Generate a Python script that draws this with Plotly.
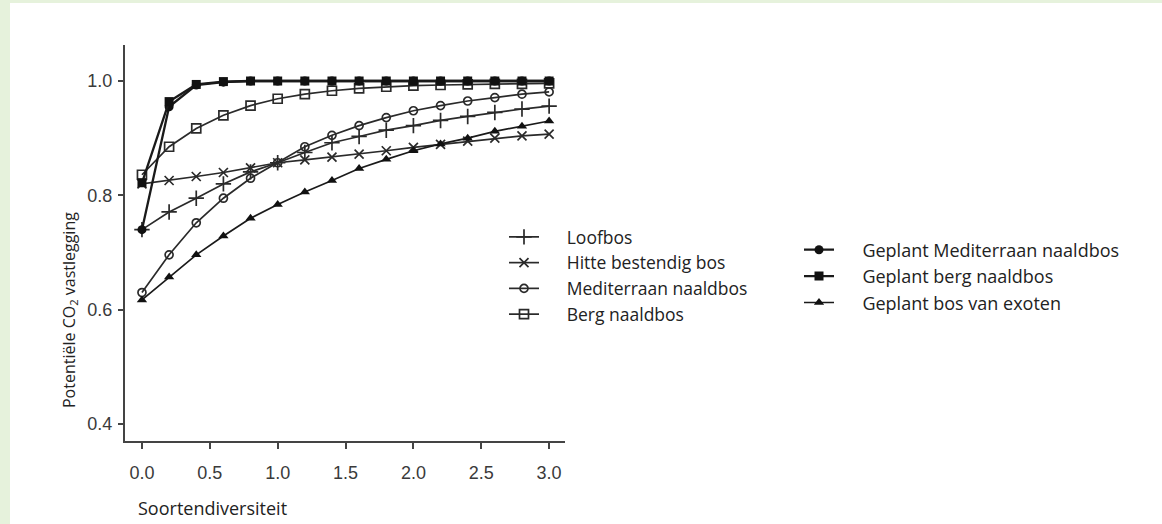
import plotly.graph_objects as go

# ---------------- data ----------------
x_vals = [0.0, 0.2, 0.4, 0.6, 0.8, 1.0, 1.2, 1.4, 1.6, 1.8, 2.0, 2.2, 2.4, 2.6, 2.8, 3.0]

loofbos = [0.74, 0.771, 0.795, 0.82, 0.841, 0.857, 0.875, 0.892, 0.903, 0.914, 0.922, 0.931, 0.938, 0.945, 0.951, 0.956]
hitte = [0.82, 0.826, 0.833, 0.84, 0.848, 0.857, 0.862, 0.867, 0.872, 0.878, 0.884, 0.889, 0.895, 0.9, 0.904, 0.907]
mediterraan = [0.63, 0.696, 0.752, 0.795, 0.83, 0.857, 0.885, 0.905, 0.922, 0.936, 0.948, 0.957, 0.965, 0.971, 0.977, 0.981]
berg = [0.836, 0.885, 0.917, 0.94, 0.957, 0.969, 0.977, 0.983, 0.987, 0.99, 0.992, 0.993, 0.994, 0.995, 0.995, 0.996]
geplant_med = [0.74, 0.955, 0.993, 0.998, 1.0, 1.0, 1.0, 1.0, 1.0, 1.0, 1.0, 1.0, 1.0, 1.0, 1.0, 1.0]
geplant_berg = [0.822, 0.964, 0.994, 0.999, 1.0, 1.0, 1.0, 1.0, 1.0, 1.0, 1.0, 1.0, 1.0, 1.0, 1.0, 1.0]
exoten = [0.617, 0.657, 0.696, 0.729, 0.76, 0.784, 0.806, 0.826, 0.847, 0.863, 0.878, 0.89, 0.9, 0.912, 0.921, 0.93]

x_ticks = [0.0, 0.5, 1.0, 1.5, 2.0, 2.5, 3.0]
x_ticklabels = ["0.0", "0.5", "1.0", "1.5", "2.0", "2.5", "3.0"]
y_ticks = [0.4, 0.6, 0.8, 1.0]
y_ticklabels = ["0.4", "0.6", "0.8", "1.0"]

names1 = ["Loofbos", "Hitte bestendig bos", "Mediterraan naaldbos", "Berg naaldbos"]
names2 = ["Geplant Mediterraan naaldbos", "Geplant berg naaldbos", "Geplant bos van exoten"]

# ---------------- layout geometry ----------------
W, H = 1162, 524
L, R, T, B = 125, 565, 45, 441   # plot area in px


def px2x(px):
    return (px - L) / (R - L)


def px2y(py):
    return (B - py) / (B - T)


PAD = "\u00a0" * 5
FONT_FAMILY = "Open Sans, Noto Sans, sans-serif"
LEG_FONT1 = dict(family=FONT_FAMILY, size=17.5, color="#222222")
LEG_FONT2 = dict(family=FONT_FAMILY, size=18, color="#222222")
TICK_FONT = dict(family="Liberation Sans Narrow, Liberation Sans, Arial, sans-serif", size=18, color="#3a3a3a")

fig = go.Figure()

open_series = [
    (loofbos, "cross-thin", 11),
    (hitte, "x-thin", 9),
    (mediterraan, "circle-open", 8),
    (berg, "square-open", 9),
]
for (vals, sym, sz), nm in zip(open_series, names1):
    fig.add_trace(go.Scatter(
        x=x_vals, y=vals, name=PAD + nm, mode="lines+markers",
        line=dict(color="#2a2a2a", width=1.7),
        marker=dict(symbol=sym, size=sz, color="#2a2a2a",
                    line=dict(color="#2a2a2a", width=1.7)),
        legend="legend",
    ))

filled_series = [
    (geplant_med, "circle", 9),
    (geplant_berg, "square", 9),
    (exoten, "triangle-up", 9),
]
for (vals, sym, sz), nm in zip(filled_series, names2):
    fig.add_trace(go.Scatter(
        x=x_vals, y=vals, name=PAD + nm, mode="lines+markers",
        line=dict(color="#1a1a1a", width=2.3 if sym != "triangle-up" else 1.7),
        marker=dict(symbol=sym, size=sz, color="#111111"),
        legend="legend2",
    ))

fig.update_layout(
    width=W, height=H,
    margin=dict(l=L, r=W - R, t=T, b=H - B, pad=0),
    paper_bgcolor="#e6f2dc",
    plot_bgcolor="white",
    showlegend=True,
    legend=dict(
        x=px2x(504), y=px2y(219), xanchor="left", yanchor="top",
        bgcolor="rgba(0,0,0,0)", font=LEG_FONT1, tracegroupgap=0,
    ),
    legend2=dict(
        x=px2x(799), y=px2y(231.5), xanchor="left", yanchor="top",
        bgcolor="rgba(0,0,0,0)", font=LEG_FONT2, tracegroupgap=0,
    ),
    xaxis=dict(
        range=[-0.125, 3.117], tickvals=x_ticks, ticktext=x_ticklabels,
        showgrid=False, zeroline=False, showline=True, linecolor="#444444", linewidth=2,
        ticks="outside", ticklen=6, tickwidth=2, tickcolor="#444444",
        tickfont=TICK_FONT, ticklabelstandoff=8,
    ),
    yaxis=dict(
        range=[0.3703, 1.063], tickvals=y_ticks, ticktext=y_ticklabels,
        showgrid=False, zeroline=False, showline=True, linecolor="#444444", linewidth=2,
        ticks="outside", ticklen=5, tickwidth=2, tickcolor="#444444",
        tickfont=TICK_FONT, ticklabelstandoff=2,
    ),
    shapes=[dict(
        type="rect", xref="paper", yref="paper", layer="below",
        x0=px2x(10), x1=px2x(W + 5), y0=px2y(H + 5), y1=px2y(3),
        fillcolor="white", line=dict(width=0),
    )],
    annotations=[
        dict(text="Soortendiversiteit", xref="paper", yref="paper",
             x=px2x(136), y=px2y(508), xanchor="left", yanchor="middle",
             showarrow=False, font=dict(family=FONT_FAMILY, size=18, color="#222222")),
        dict(text="Potentiële CO<sub>2</sub> vastlegging", xref="paper", yref="paper",
             x=px2x(70), y=px2y(310), xanchor="center", yanchor="middle", textangle=-90,
             showarrow=False, font=dict(family=FONT_FAMILY, size=16, color="#222222")),
    ],
)

fig.write_html("out.html")
